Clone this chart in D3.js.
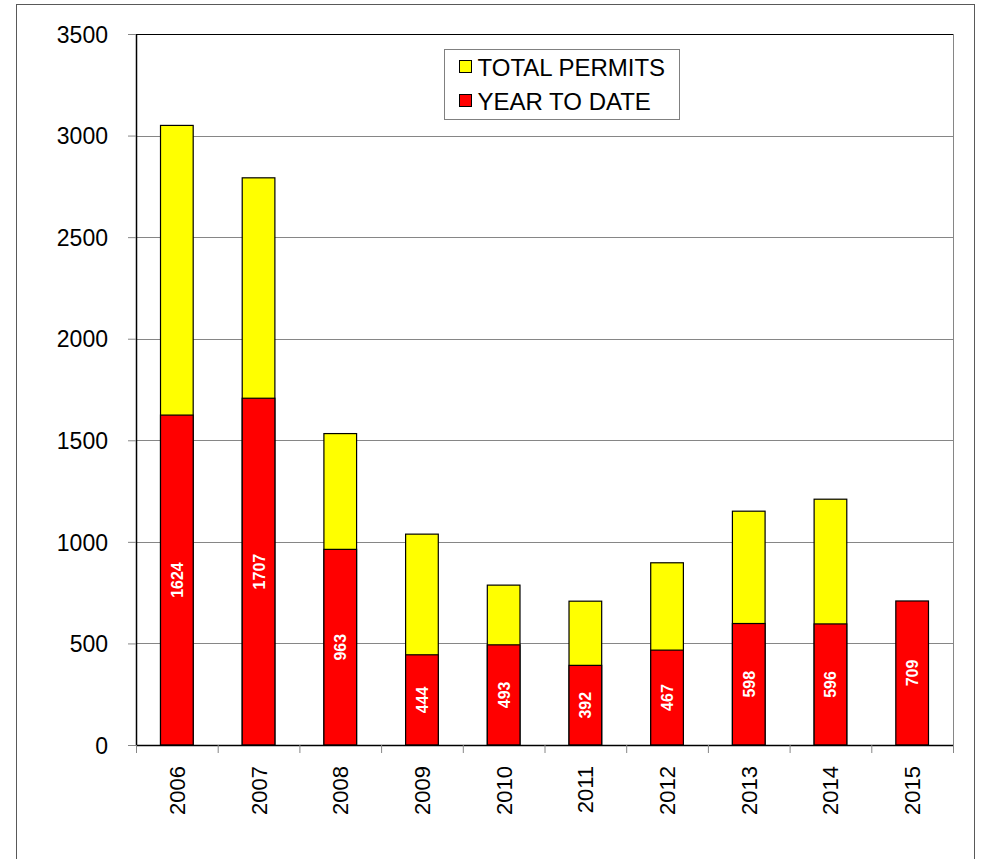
<!DOCTYPE html>
<html>
<head>
<meta charset="utf-8">
<script src="https://cdn.jsdelivr.net/npm/d3@7"></script>
<style>
  body { margin: 0; background: #fff; }
  svg { display: block; font-family: "Liberation Sans", Arial, sans-serif; }
</style>
</head>
<body>
<svg></svg>
<script>
// chart data
var years = ["2006", "2007", "2008", "2009", "2010", "2011", "2012", "2013", "2014", "2015"];
var totalPermits = [3050, 2792, 1533, 1038, 787, 708, 897, 1151, 1210, 0];
var yearToDate = [1624, 1707, 963, 444, 493, 392, 467, 598, 596, 709];
var yTicks = [0, 500, 1000, 1500, 2000, 2500, 3000, 3500];

var width = 981, height = 859;
var svg = d3.select("svg").attr("width", width).attr("height", height);

var margin = {left: 136, top: 34, right: 28, bottom: 114};

var xScale = d3.scaleBand()
    .domain(years)
    .range([margin.left, width - margin.right])
    .paddingInner(0.6)
    .paddingOuter(0.3);

var yScale = d3.scaleLinear()
    .domain([0, 3500])
    .range([height - margin.bottom, margin.top]);

// outer frame
svg.append("rect")
    .attr("x", 16.5).attr("y", 4.5)
    .attr("width", 958).attr("height", 900)
    .attr("fill", "none").attr("stroke", "#595959").attr("stroke-width", 1);

// gridlines
svg.append("g")
    .selectAll("line")
    .data(yTicks.slice(1))
    .enter().append("line")
    .attr("x1", margin.left).attr("x2", width - margin.right)
    .attr("y1", function(d){ return Math.round(yScale(d)) + 0.5; })
    .attr("y2", function(d){ return Math.round(yScale(d)) + 0.5; })
    .attr("stroke", function(d){ return d == 3500 ? "#000" : "#868686"; })
    .attr("stroke-width", 1);

// right edge of plot area
svg.append("line")
    .attr("x1", width - margin.right + 0.5).attr("x2", width - margin.right + 0.5)
    .attr("y1", yScale(3500)).attr("y2", yScale(0))
    .attr("stroke", "#868686");

// total bars (behind)
svg.append("g")
    .selectAll("rect")
    .data(years)
    .enter().append("rect")
    .attr("x", function(d){ return xScale(d); })
    .attr("width", xScale.bandwidth())
    .attr("y", function(d, i){ return yScale(totalPermits[i]); })
    .attr("height", function(d, i){ return yScale(0) - yScale(totalPermits[i]); })
    .attr("fill", "#ffff00")
    .attr("stroke", function(d, i){ return totalPermits[i] > 0 ? "#000" : "none"; })
    .attr("stroke-width", 1.2);

// year to date bars
svg.append("g")
    .selectAll("rect")
    .data(years)
    .enter().append("rect")
    .attr("x", function(d){ return xScale(d); })
    .attr("width", xScale.bandwidth())
    .attr("y", function(d, i){ return yScale(yearToDate[i]); })
    .attr("height", function(d, i){ return yScale(0) - yScale(yearToDate[i]); })
    .attr("fill", "#ff0000")
    .attr("stroke", "#000")
    .attr("stroke-width", 1.2);

// value labels
svg.append("g")
    .selectAll("text")
    .data(years)
    .enter().append("text")
    .attr("transform", function(d, i){
        var cx = xScale(d) + xScale.bandwidth() / 2;
        var cy = (yScale(0) + yScale(yearToDate[i])) / 2;
        return "translate(" + (cx + 6) + "," + cy + ") rotate(-90)";
    })
    .attr("text-anchor", "middle")
    .attr("fill", "#fff")
    .style("font-size", "16px")
    .style("font-weight", "bold")
    .text(function(d, i){ return yearToDate[i]; });

// y axis
var yAxis = d3.axisLeft(yScale).tickValues(yTicks).tickFormat(d3.format("d")).tickSize(8).tickPadding(20);
var gy = svg.append("g")
    .attr("transform", "translate(" + margin.left + ",0)")
    .call(yAxis);
gy.select(".domain").attr("stroke", "#000").attr("stroke-width", 1.5).attr("d", "M0.5," + yScale(3500) + "V" + yScale(0));
gy.selectAll(".tick line").attr("stroke", "#868686");
gy.selectAll("text").style("font-size", "23px").attr("fill", "#000").attr("dy", "0.36em");

// x axis
var xAxis = d3.axisBottom(xScale).tickSize(0).tickPadding(0);
var gx = svg.append("g")
    .attr("transform", "translate(0," + yScale(0) + ")")
    .call(xAxis);
gx.select(".domain").attr("stroke", "#000").attr("stroke-width", 1.5).attr("d", "M" + margin.left + ",0.5H" + (width - margin.right));
gx.selectAll(".tick text")
    .attr("transform", "translate(8,21) rotate(-90)")
    .attr("y", 0).attr("dy", 0)
    .attr("text-anchor", "end")
    .style("font-size", "22px")
    .attr("fill", "#000");

// category boundary ticks
svg.append("g")
    .selectAll("line")
    .data(d3.range(years.length + 1))
    .enter().append("line")
    .attr("x1", function(i){ return margin.left + i * xScale.step() + 0.5; })
    .attr("x2", function(i){ return margin.left + i * xScale.step() + 0.5; })
    .attr("y1", yScale(0)).attr("y2", yScale(0) + 8)
    .attr("stroke", "#868686");

// legend
var legend = svg.append("g").attr("transform", "translate(444.5,49.5)");
legend.append("rect")
    .attr("width", 235).attr("height", 70)
    .attr("fill", "#fff").attr("stroke", "#808080");

var legendItems = [{label: "TOTAL PERMITS", color: "#ffff00"}, {label: "YEAR TO DATE", color: "#ff0000"}];
legendItems.forEach(function(item, i){
    legend.append("rect")
        .attr("x", 15).attr("y", 11 + i * 34)
        .attr("width", 12).attr("height", 12)
        .attr("fill", item.color).attr("stroke", "#000");
    legend.append("text")
        .attr("x", 33).attr("y", 26 + i * 34)
        .style("font-size", "24px")
        .text(item.label);
});
</script>
</body>
</html>
